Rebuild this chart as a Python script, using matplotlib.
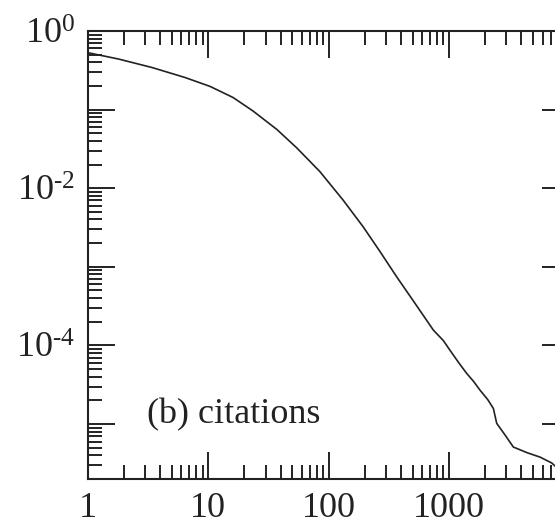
import matplotlib
matplotlib.use('Agg')
import matplotlib.pyplot as plt
from matplotlib.ticker import LogLocator, NullFormatter

# cumulative distribution of citations
citations = [1, 1.8, 3.42, 6.43, 10.4, 16.1, 23.6, 37.3, 54.7, 85, 132, 194,
             268, 368, 523, 742, 900, 1020, 1200, 1406, 1600, 1812, 2100,
             2340, 2495, 2900, 3430, 4500, 5710, 7140, 8500]
fraction = [0.530, 0.440, 0.343, 0.256, 0.197, 0.1426, 0.0960, 0.0558,
            0.0324, 0.0162, 7.08e-3, 3.23e-3, 1.56e-3, 7.48e-4, 3.43e-4,
            1.57e-4, 1.15e-4, 8.7e-5, 6.1e-5, 4.4e-5, 3.5e-5, 2.7e-5, 2.05e-5,
            1.58e-5, 1.02e-5, 7.4e-6, 5.1e-6, 4.3e-6, 3.8e-6, 3.2e-6, 2.5e-6]

x_ticks = [1, 10, 100, 1000, 10000]
x_tick_labels = ["1", "10", "100", "1000", ""]
y_ticks = [1e-5, 1e-4, 1e-3, 1e-2, 1e-1, 1]
y_tick_labels = ["", r"$10^{\text{-}4}$", "", r"$10^{\text{-}2}$", "", r"$10^{0}$"]

plt.rcParams['font.family'] = 'serif'
plt.rcParams['font.serif'] = ['Liberation Serif', 'DejaVu Serif']
plt.rcParams['mathtext.fontset'] = 'custom'
plt.rcParams['mathtext.rm'] = 'Liberation Serif'
plt.rcParams['mathtext.it'] = 'Liberation Serif:italic'


def make_plot(output_file="out.png"):
    fig = plt.figure(figsize=(5.55, 5.25), dpi=100)
    # the right edge of the axes sits just outside the picture, as in the scan
    ax = fig.add_axes([0.158, 0.0876, 0.8678, 0.8534])

    ax.plot(citations, fraction, color="#222222", lw=1.2)
    ax.set_xscale('log')
    ax.set_yscale('log')

    ax.set_xticks(x_ticks)
    ax.set_xticklabels(x_tick_labels)
    ax.set_yticks(y_ticks)
    ax.set_yticklabels(y_tick_labels)
    for axis in (ax.xaxis, ax.yaxis):
        axis.set_minor_locator(LogLocator(base=10, subs=range(2, 10), numticks=20))
        axis.set_minor_formatter(NullFormatter())
    # limits after the ticks, otherwise set_ticks widens the view
    ax.set_xlim(1, 1e4)
    ax.set_ylim(2e-6, 1)

    ax.tick_params(which='both', direction='in', top=True, right=True,
                   width=1.4, labelsize=26, colors='#222222')
    ax.tick_params(which='major', length=19.5, pad=9)
    ax.tick_params(which='minor', length=10)
    for spine in ax.spines.values():
        spine.set_linewidth(1.5)
        spine.set_color('#222222')

    ax.text(0.123, 0.125, "(b) citations", transform=ax.transAxes,
            fontsize=26, ha="left", va="baseline", color="#222222")

    fig.savefig(output_file, dpi=100)


def main():
    make_plot()


if __name__ == "__main__":
    main()
